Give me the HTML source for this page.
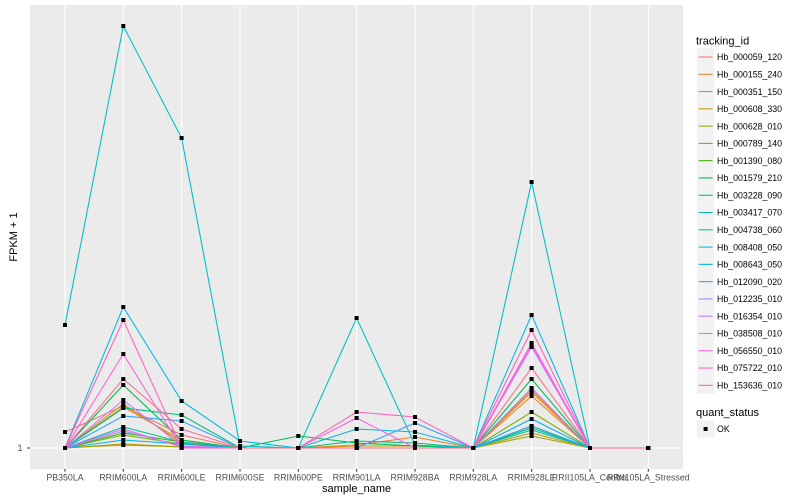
<!DOCTYPE html>
<html><head><meta charset="utf-8"><style>
html,body{margin:0;padding:0;background:#fff;}
svg{display:block;font-family:"Liberation Sans",sans-serif;}
</style></head><body>
<svg width="800" height="500" viewBox="0 0 800 500" xmlns="http://www.w3.org/2000/svg">
<rect x="0" y="0" width="800" height="500" fill="#fff"/>
<rect x="30" y="5" width="653" height="464" fill="#EBEBEB"/>
<g stroke="#fff" stroke-width="1.07">
<line x1="30" y1="448" x2="683" y2="448"/>
<line x1="65" y1="5" x2="65" y2="469"/>
<line x1="123.3" y1="5" x2="123.3" y2="469"/>
<line x1="181.6" y1="5" x2="181.6" y2="469"/>
<line x1="240" y1="5" x2="240" y2="469"/>
<line x1="298.3" y1="5" x2="298.3" y2="469"/>
<line x1="356.6" y1="5" x2="356.6" y2="469"/>
<line x1="415" y1="5" x2="415" y2="469"/>
<line x1="473.3" y1="5" x2="473.3" y2="469"/>
<line x1="531.6" y1="5" x2="531.6" y2="469"/>
<line x1="590" y1="5" x2="590" y2="469"/>
<line x1="648.3" y1="5" x2="648.3" y2="469"/>
</g>
<g id="lines" fill="none" stroke-width="1.07"></g>
<g id="pts" fill="#000"></g>
<!-- axes ticks -->
<g stroke="#333" stroke-width="1.07">
<line x1="27.3" y1="448" x2="30" y2="448"/>
<line x1="65" y1="469" x2="65" y2="471.7"/>
<line x1="123.3" y1="469" x2="123.3" y2="471.7"/>
<line x1="181.6" y1="469" x2="181.6" y2="471.7"/>
<line x1="240" y1="469" x2="240" y2="471.7"/>
<line x1="298.3" y1="469" x2="298.3" y2="471.7"/>
<line x1="356.6" y1="469" x2="356.6" y2="471.7"/>
<line x1="415" y1="469" x2="415" y2="471.7"/>
<line x1="473.3" y1="469" x2="473.3" y2="471.7"/>
<line x1="531.6" y1="469" x2="531.6" y2="471.7"/>
<line x1="590" y1="469" x2="590" y2="471.7"/>
<line x1="648.3" y1="469" x2="648.3" y2="471.7"/>
</g>
<g fill="#4D4D4D" font-size="8.8" text-anchor="middle">
<text x="22.5" y="451.2" text-anchor="end">1</text>
<text x="65" y="480.5">PB350LA</text>
<text x="123.3" y="480.5">RRIM600LA</text>
<text x="181.6" y="480.5">RRIM600LE</text>
<text x="240" y="480.5">RRIM600SE</text>
<text x="298.3" y="480.5">RRIM600PE</text>
<text x="356.6" y="480.5">RRIM901LA</text>
<text x="415" y="480.5">RRIM928BA</text>
<text x="473.3" y="480.5">RRIM928LA</text>
<text x="531.6" y="480.5">RRIM928LE</text>
<text x="590" y="480.5">RRII105LA_Control</text>
<text x="648.3" y="480.5">RRII105LA_Stressed</text>
</g>
<text x="356.6" y="492" font-size="11" text-anchor="middle" fill="#000">sample_name</text>
<text x="0" y="0" font-size="11" text-anchor="middle" fill="#000" transform="translate(17,237) rotate(-90)">FPKM + 1</text>
<!-- legend -->
<text x="696" y="44.5" font-size="11" fill="#000">tracking_id</text>
<g id="leg"></g>
<text x="696" y="416" font-size="11" fill="#000">quant_status</text>
<rect x="697" y="420.4" width="17.28" height="17.28" fill="#F2F2F2"/>
<rect x="703.6" y="427" width="4" height="4" fill="#000"/>
<text x="717" y="432.2" font-size="8.8" fill="#000">OK</text>
</svg>
<script>
var X=[65,123.3,181.6,240,298.3,356.6,415,473.3,531.6,590,648.3];
var C=["#F8766D","#EA8331","#D89000","#C09B00","#A3A500","#7CAE00","#39B600","#00BB4E","#00BF7D","#00C1A3","#00BFC4","#00BAE0","#00B0F6","#35A2FF","#9590FF","#C77CFF","#E76BF3","#FA62DB","#FF62BC","#FF6C91"];
var N=["Hb_000059_120","Hb_000155_240","Hb_000351_150","Hb_000608_330","Hb_000628_010","Hb_000789_140","Hb_001390_080","Hb_001579_210","Hb_003228_090","Hb_003417_070","Hb_004738_060","Hb_008408_050","Hb_008643_050","Hb_012090_020","Hb_012235_010","Hb_016354_010","Hb_038508_010","Hb_056550_010","Hb_075722_010","Hb_153636_010"];
var D=[
[432,406,435,448,448,448,448,448,390,448,448],
[448,407,440,448,448,445,437,448,396,448,448],
[448,404,443,448,448,446,446,448,392,448,448],
[448,444,447,448,448,448,448,448,433,448,448],
[448,445,447,448,448,448,448,448,436,448,448],
[448,435,444,448,448,448,448,448,412,448,448],
[448,433,442,448,448,448,448,448,426,448,448],
[448,385,440,448,436,443,446,448,379,448,448],
[448,408,415,448,448,441,443,448,428,448,448],
[448,427,442,448,448,448,448,448,430,448,448],
[325,26,138,446,448,318,445,448,182,448,448],
[448,307,401,441,448,429,432,448,315,448,448],
[448,440,444,448,448,448,448,448,419,448,448],
[448,416,421,448,448,448,423,448,426,448,448],
[448,431,446,448,448,448,448,448,388,448,448],
[448,400,446,448,448,448,448,448,345,448,448],
[448,429,447,448,448,448,448,448,347,448,448],
[448,354,448,448,448,418,448,448,343,448,448],
[448,320,448,448,448,412,417,448,330,448,448],
[448,379,429,448,448,448,448,448,368,448,448]];
var NS="http://www.w3.org/2000/svg";
var gl=document.getElementById("lines"),gp=document.getElementById("pts"),lg=document.getElementById("leg");
for(var i=0;i<D.length;i++){
 var p=document.createElementNS(NS,"polyline");
 p.setAttribute("points",D[i].map(function(y,j){return X[j]+","+y;}).join(" "));
 p.setAttribute("stroke",C[i]);gl.appendChild(p);
 var cy=57+i*17.28;
 var r=document.createElementNS(NS,"rect");
 r.setAttribute("x",697);r.setAttribute("y",cy-8.64);r.setAttribute("width",17.28);r.setAttribute("height",17.28);r.setAttribute("fill","#F2F2F2");lg.appendChild(r);
 var l=document.createElementNS(NS,"line");
 l.setAttribute("x1",698.7);l.setAttribute("x2",712.6);l.setAttribute("y1",cy);l.setAttribute("y2",cy);l.setAttribute("stroke",C[i]);l.setAttribute("stroke-width",1.07);lg.appendChild(l);
 var t=document.createElementNS(NS,"text");
 t.setAttribute("x",717);t.setAttribute("y",cy+3.2);t.setAttribute("font-size","8.8");t.setAttribute("fill","#000");t.textContent=N[i];lg.appendChild(t);
}
for(var i=0;i<D.length;i++){for(var j=0;j<11;j++){
 var q=document.createElementNS(NS,"rect");
 q.setAttribute("x",X[j]-2);q.setAttribute("y",D[i][j]-2);q.setAttribute("width",4);q.setAttribute("height",4);gp.appendChild(q);
}}
</script>
</body></html>
